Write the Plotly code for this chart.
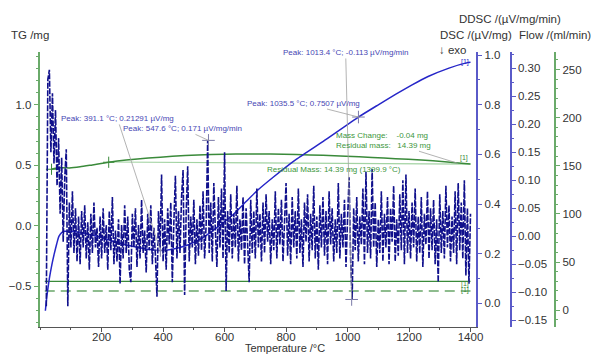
import plotly.graph_objects as go

W, H = 596, 354
FONT = "Liberation Sans, Arial, sans-serif"

# ---------------- data ----------------
temp_range = [-2, 1419]
x_ticks = [200, 400, 600, 800, 1000, 1200, 1400]

tg_range = [-0.840, 1.440]
dsc_range = [-0.0962, 1.014]
ddsc_range = [-0.1624, 0.3293]
flow_range = [-17.6, 268.6]

# TG curve (mg)
tg_T = [37, 50, 62, 80, 95, 130, 170, 223, 280, 352, 430, 513, 600, 673, 750, 834,
        920, 995, 1080, 1156, 1240, 1316, 1390, 1400]
tg_mg = [0.467, 0.475, 0.480, 0.479, 0.478, 0.487, 0.503, 0.525, 0.543, 0.560, 0.574,
         0.586, 0.592, 0.594, 0.593, 0.589, 0.582, 0.574, 0.565, 0.555, 0.543, 0.530,
         0.512, 0.510]
# TG evaluation baseline and markers
tg_base_T = [223, 1400]
tg_base_mg = [0.527, 0.509]
tg_eval_T = [37, 223]
tg_eval_mg = [0.467, 0.525]

# DSC curve (uV/mg)
dsc_T = [17, 22, 30, 38, 46, 54, 61, 70, 80, 100, 150, 200, 250, 300, 350, 391.1, 430,
         480, 530, 580, 630, 670, 705, 760, 834, 921, 1035.5, 1100, 1156, 1210, 1262,
         1330, 1390, 1400]
dsc_val = [-0.03, 0.03, 0.10, 0.155, 0.20, 0.24, 0.27, 0.285, 0.29, 0.29, 0.28, 0.265,
           0.245, 0.23, 0.218, 0.21291, 0.218, 0.235, 0.265, 0.31, 0.36, 0.41, 0.453,
           0.51, 0.581, 0.653, 0.7507, 0.80, 0.842, 0.88, 0.914, 0.948, 0.970, 0.972]

# DDSC (uV/mg/min), sampled every 5 degC from 20 to 1400 degC
ddsc_T = list(range(20, 1401, 5))
ddsc_val = [
    # 20 .. 115
    -0.125, 0.280, 0.297, 0.150, 0.255, 0.130, 0.225, 0.090, 0.175, 0.040,
    0.140, -0.010, 0.105, 0.155, -0.125, 0.060, -0.020, 0.080, -0.030, 0.050,
    # 120 .. 215
    -0.045, 0.035, -0.050, 0.045, -0.020, 0.055, -0.040, 0.025, -0.060, 0.040,
    -0.030, 0.060, -0.020, 0.015, -0.055, 0.035, -0.040, 0.050, -0.030, 0.020,
    # 220 .. 315
    -0.060, 0.045, -0.025, 0.070, -0.050, 0.010, -0.045, 0.030, -0.085, 0.020,
    -0.040, 0.055, -0.030, 0.035, -0.060, -0.082, 0.040, -0.020, 0.050, -0.055,
    # 320 .. 415
    0.020, -0.040, 0.065, -0.030, 0.010, -0.065, 0.040, -0.025, 0.055, -0.050,
    0.015, -0.035, -0.108, 0.045, -0.020, 0.110, -0.045, 0.030, -0.060, 0.050,
    # 420 .. 515
    -0.015, 0.060, -0.082, 0.025, 0.108, -0.040, 0.045, -0.030, 0.070, 0.118,
    -0.105, 0.040, 0.125, -0.045, 0.035, -0.020, 0.065, -0.050, 0.030, -0.035,
    # 520 .. 615
    0.055, -0.025, 0.080, -0.040, 0.020, 0.171, -0.030, 0.060, -0.045, 0.095,
    0.010, -0.055, 0.070, -0.020, 0.085, -0.040, 0.150, -0.098, 0.045, -0.030,
    # 620 .. 715
    0.075, -0.040, 0.040, -0.020, 0.090, -0.045, 0.030, -0.025, 0.070, -0.050,
    0.050, -0.015, -0.082, 0.065, -0.030, 0.045, -0.040, 0.085, -0.020, 0.040,
    # 720 .. 815
    -0.045, 0.060, -0.030, 0.075, -0.010, 0.045, -0.050, 0.030, -0.025, 0.080,
    -0.040, 0.050, -0.015, 0.065, -0.045, 0.025, 0.095, -0.035, 0.040, -0.050,
    # 820 .. 915
    0.070, -0.020, 0.045, -0.040, 0.085, -0.030, 0.030, -0.055, 0.060, -0.010,
    0.075, -0.045, 0.040, -0.025, 0.090, -0.040, 0.035, -0.060, 0.055, -0.020,
    # 920 .. 1015
    0.070, -0.035, 0.045, -0.050, 0.080, -0.015, 0.050, -0.045, 0.030, -0.030,
    0.095, -0.040, 0.040, -0.020, 0.065, -0.055, 0.030, 0.105, -0.040, -0.113,
    # 1020 .. 1115
    0.050, -0.025, 0.070, -0.045, 0.035, -0.015, 0.085, -0.050, 0.115, -0.030,
    0.045, -0.040, 0.120, -0.020, 0.060, -0.055, 0.030, -0.030, 0.080, -0.045,
    # 1120 .. 1215
    0.040, -0.020, 0.070, -0.050, 0.050, -0.010, 0.090, -0.045, 0.030, -0.035,
    0.075, -0.025, 0.100, -0.050, 0.110, -0.030, 0.045, -0.040, 0.060, -0.020,
    # 1220 .. 1315
    0.085, -0.045, 0.035, -0.030, 0.070, -0.055, 0.040, -0.015, 0.080, -0.040,
    0.050, -0.025, 0.065, -0.050, 0.030, -0.082, 0.075, -0.030, 0.045, -0.040,
    # 1320 .. 1400
    0.090, -0.020, 0.055, -0.045, 0.035, -0.030, 0.080, -0.050, 0.095, -0.025,
    0.060, -0.040, 0.100, -0.070, 0.050, -0.085, 0.040,
]

# Purge gas flows (ml/min)
flow_T = [15, 1400]
flow_solid = [30, 30]
flow_dashed = [20, 20]

# Peak evaluations
peak_T = [391.1, 547.6, 1013.4, 1035.5]
peak_val = [0.21291, 0.171, -0.113, 0.7507]
peak_axis = ["y3", "y4", "y4", "y3"]
peak_text = ["Peak: 391.1 °C; 0.21291 µV/mg",
             "Peak: 547.6 °C; 0.171 µV/mg/min",
             "Peak: 1013.4 °C; -0.113 µV/mg/min",
             "Peak: 1035.5 °C; 0.7507 µV/mg"]
peak_offset = [(-43, -132), (-26, -12), (-6, -247), (-55, -14)]

mass_T = 1358
mass_tg = 0.517

# ---------------- styles ----------------
GREEN = "#3a8a3a"
GREEN_AX = "#6aaa6a"
BLUE_AX = "#5a5ac8"
DSC_C = "#2626c8"
DDSC_C = "#10108c"
TXT = "#333333"
PEAK_C = "#4646b4"
GTXT = "#3c963c"


def P(px, py):
    return px / W, 1 - py / H


fig = go.Figure()

# TG (y)
fig.add_trace(go.Scatter(x=tg_base_T, y=tg_base_mg, mode="lines", yaxis="y",
                         line=dict(color="#a3d3a3", width=1.2), hoverinfo="skip"))
fig.add_trace(go.Scatter(x=tg_T, y=tg_mg, mode="lines", yaxis="y",
                         line=dict(color=GREEN, width=1.5, shape="spline", smoothing=0.6)))
fig.add_trace(go.Scatter(x=tg_eval_T, y=tg_eval_mg, mode="markers", yaxis="y",
                         marker=dict(symbol="cross-thin", size=8,
                                     line=dict(color=GREEN, width=1))))
# Flow (y2)
fig.add_trace(go.Scatter(x=flow_T, y=flow_solid, mode="lines", yaxis="y2",
                         line=dict(color=GREEN, width=1.2)))
fig.add_trace(go.Scatter(x=flow_T, y=flow_dashed, mode="lines", yaxis="y2",
                         line=dict(color="#6aa66a", width=1.5, dash="10px,6px")))
# DSC (y3)
fig.add_trace(go.Scatter(x=dsc_T, y=dsc_val, mode="lines", yaxis="y3",
                         line=dict(color=DSC_C, width=1.5, shape="spline", smoothing=0.5)))
# DDSC (y4)
fig.add_trace(go.Scatter(x=ddsc_T, y=ddsc_val, mode="lines", yaxis="y4",
                         line=dict(color=DDSC_C, width=1.6, dash="6px,1.5px",
                                   simplify=False)))

# peak markers
for T, v, ax in zip(peak_T, peak_val, peak_axis):
    fig.add_trace(go.Scatter(x=[T], y=[v], mode="markers", yaxis=ax,
                             marker=dict(symbol="cross-thin", size=9,
                                         line=dict(color="#7a7aa8", width=1))))

annotations = []
for T, v, ax, t, (ox, oy) in zip(peak_T, peak_val, peak_axis, peak_text, peak_offset):
    annotations.append(dict(x=T, y=v, xref="x", yref=ax, text=t, showarrow=True,
                            arrowhead=0, arrowwidth=0.8, arrowcolor="#a0a0a0",
                            ax=ox, ay=oy, font=dict(family=FONT, size=8, color=PEAK_C)))

annotations.append(dict(x=mass_T, y=mass_tg, xref="x", yref="y",
                        text="Mass Change:&nbsp;&nbsp;&nbsp;&nbsp;-0.04 mg<br>Residual mass:&nbsp;&nbsp;&nbsp;14.39 mg",
                        align="left", showarrow=True, arrowhead=0, arrowwidth=0.8,
                        arrowcolor="#a0a0a0", ax=-74, ay=-23,
                        font=dict(family=FONT, size=8, color=GTXT)))


def text_at(px, py, txt, size=11.5, color=TXT, xanchor="center"):
    x, y = P(px, py)
    annotations.append(dict(x=x, y=y, xref="paper", yref="paper", text=txt,
                            showarrow=False, xanchor=xanchor, yanchor="middle",
                            font=dict(family=FONT, size=size, color=color)))


text_at(338, 168, "Residual Mass: 14.39 mg (1399.9 °C)", size=8, color=GTXT)
text_at(9, 33, "TG /mg", xanchor="left")
text_at(516.5, 17, "DDSC /(µV/mg/min)")
text_at(481.5, 33, "DSC /(µV/mg)")
text_at(561.5, 33, "Flow /(ml/min)")
text_at(458, 48, "↓ exo")
text_at(288, 347.5, "Temperature /°C", size=11)
text_at(471, 60, "[1]", size=7, color=DSC_C)
text_at(470, 157, "[1]", size=7, color=GREEN)
text_at(471, 284, "[1]", size=7, color=GREEN)
text_at(471, 290, "[1]", size=7, color=GREEN)

tickfont = dict(family=FONT, size=11.5, color=TXT)


def yax(rng, color, dtick, minor, fmt, **kw):
    d = dict(range=rng, showline=True, linecolor=color, linewidth=1.5,
             ticks="outside", ticklen=4, tickcolor=color, tickwidth=1,
             dtick=dtick, tick0=0, tickformat=fmt, tickfont=tickfont,
             showgrid=False, zeroline=False, fixedrange=True,
             minor=dict(dtick=minor, tick0=0, ticks="outside", ticklen=2,
                        tickcolor=color, showgrid=False))
    d.update(kw)
    return d


fig.update_layout(
    width=W, height=H,
    margin=dict(l=0, r=0, t=0, b=0),
    paper_bgcolor="white", plot_bgcolor="white",
    showlegend=False,
    annotations=annotations,
    xaxis=dict(domain=[40 / W, 482 / W], range=temp_range, showline=True,
               linecolor="#555555", linewidth=1, ticks="outside", ticklen=4,
               tickcolor="#555555", tickvals=x_ticks, tickfont=tickfont,
               ticklabelstandoff=-5,
               showgrid=False, zeroline=False, fixedrange=True,
               minor=dict(dtick=100, tick0=0, ticks="outside", ticklen=2,
                          tickcolor="#555555", showgrid=False)),
    yaxis=yax(tg_range, GREEN_AX, 0.5, 0.1, ".1f", side="left", anchor="x",
              domain=[27 / H, 304 / H]),
    yaxis2=yax(flow_range, GREEN_AX, 50, 10, "d", side="right", anchor="free",
               overlaying="y", position=562 / W),
    yaxis3=yax(dsc_range, BLUE_AX, 0.2, 0.1, ".1f", side="right", anchor="x",
               overlaying="y"),
    yaxis4=yax(ddsc_range, BLUE_AX, 0.05, 0.025, ".2f", side="right", anchor="free",
               overlaying="y", position=517 / W),
)

fig.write_html("out.html",
               config={"displayModeBar": False},
               post_script="document.body.style.margin='0';"
                           "document.body.style.overflow='hidden';")
